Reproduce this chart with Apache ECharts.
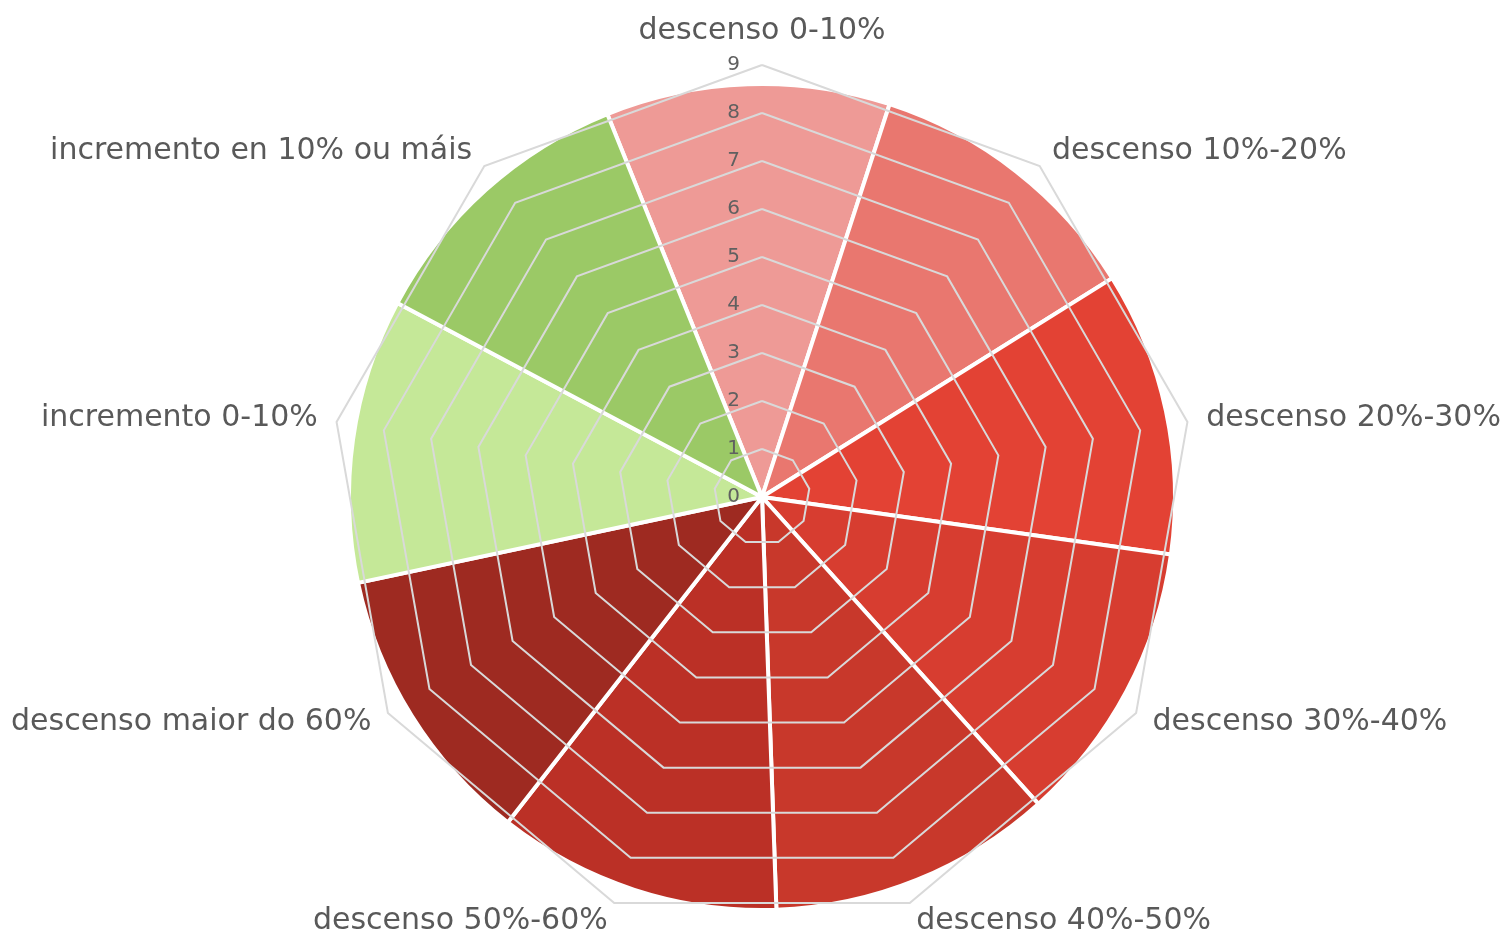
<!DOCTYPE html>
<html>
<head>
<meta charset="utf-8">
<script src="https://cdn.jsdelivr.net/npm/echarts@6/dist/echarts.min.js"></script>
<style>
  html, body { margin: 0; padding: 0; background: #fff; }
  #main { width: 1512px; height: 939px; }
</style>
</head>
<body>
<div id="main"></div>
<script>
// categories clockwise from the top
var categories = ['descenso 0-10%', 'descenso 10%-20%', 'descenso 20%-30%', 'descenso 30%-40%',
  'descenso 40%-50%', 'descenso 50%-60%', 'descenso maior do 60%', 'incremento 0-10%',
  'incremento en 10% ou máis'];
// every sector has the same size
var sectorValues = [1, 1, 1, 1, 1, 1, 1, 1, 1];
var colors = ['#ee9a96', '#e9776f', '#e34234', '#d73d30', '#c8382b', '#bb3026', '#9e2a21', '#c5e898', '#9bc966'];
var scaleMax = 9;

var myChart = echarts.init(document.getElementById('main'));

// radar places indicators counter-clockwise, so keep the first and reverse the rest
var radarOrder = [categories[0]].concat(categories.slice(1).reverse());
var indicators = radarOrder.map(function (name) {
  return { name: name, min: 0, max: scaleMax };
});

var option = {
  backgroundColor: '#fff',
  radar: {
    z: 5,
    center: [762, 497],
    radius: 432,
    startAngle: 90,
    splitNumber: 9,
    shape: 'polygon',
    indicator: indicators,
    axisName: {
      color: '#595959',
      fontSize: 30,
      fontFamily: 'DejaVu Sans, sans-serif'
    },
    nameGap: 19,
    axisLine: { show: false },
    axisTick: { show: false },
    axisLabel: { show: false },
    splitLine: { lineStyle: { color: '#d9d9d9', width: 2 } },
    splitArea: { show: false }
  },
  // polar only carries the 0..9 scale labels on the top spoke
  polar: { center: [762, 497], radius: 432, z: 6 },
  angleAxis: {
    startAngle: 90, min: 0, max: 360,
    axisLine: { show: false }, axisTick: { show: false },
    axisLabel: { show: false }, splitLine: { show: false }
  },
  radiusAxis: {
    min: 0, max: scaleMax, interval: 1,
    z: 6,
    axisLine: { show: false }, axisTick: { show: false }, splitLine: { show: false },
    axisLabel: {
      color: '#606060',
      fontSize: 20,
      fontFamily: 'DejaVu Sans, sans-serif',
      margin: 22
    }
  },
  series: [{
    type: 'pie',
    z: 1,
    center: [762, 497],
    radius: [0, 413],
    startAngle: 112,
    clockwise: true,
    silent: true,
    label: { show: false },
    labelLine: { show: false },
    itemStyle: { borderColor: '#fff', borderWidth: 4 },
    data: categories.map(function (c, i) {
      return { name: c, value: sectorValues[i], itemStyle: { color: colors[i] } };
    })
  }]
};

myChart.setOption(option);
</script>
</body>
</html>
